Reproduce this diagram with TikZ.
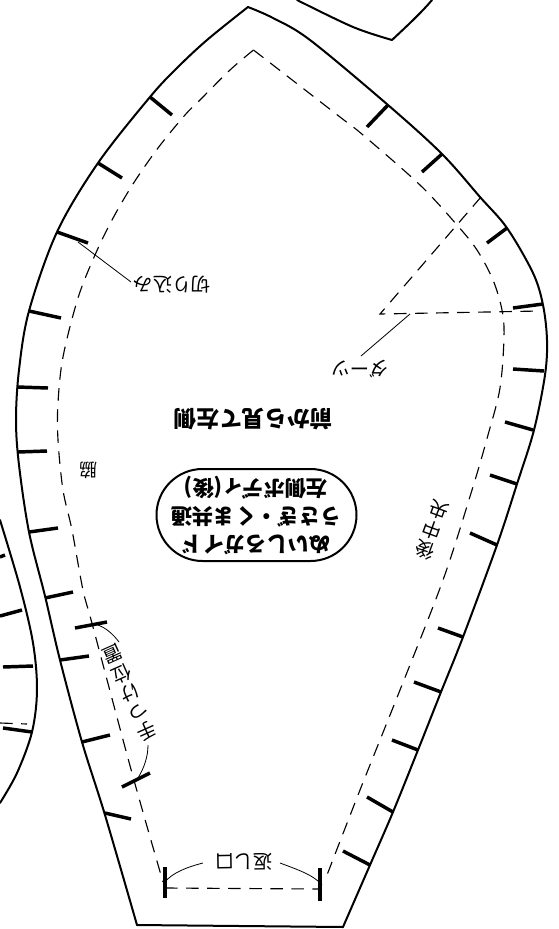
\documentclass[tikz,border=0pt]{standalone}
\usepackage{fontspec}
\setmainfont{Noto Sans CJK JP}
\tikzset{
  cutline/.style={line width=1.5pt,line join=round,line cap=round},
  notch/.style={line width=2.6pt},
  seam/.style={line width=0.85pt,dash pattern=on 9.4pt off 6.4pt},
  thinline/.style={line width=0.6pt},
  lab/.style={inner sep=0pt,align=center},
  smallt/.style={lab,font=\fontsize{14.5}{15.8}\selectfont},
  bigt/.style={lab,font=\fontsize{17}{21}\selectfont\bfseries},
  boxt/.style={lab,font=\fontsize{16}{21}\selectfont\bfseries},
}
\begin{document}
\begin{tikzpicture}[x=0.75pt,y=-0.75pt]
\useasboundingbox (0,0) rectangle (558,929);
\clip (0,0) rectangle (558,929);
% cutting outline
\draw[cutline,smooth,tension=0.55] plot coordinates {(248,7) (207,40) (177,68) (150,97) (98,163) (57,232) (29,311) (19,370) (16,420) (19,465) (29,532) (45,596) (60,660) (82,742) (105,815) (137,925)};
\draw[cutline,smooth,tension=0.55] plot coordinates {(248,7) (273,18) (310,40) (388,105) (442,154) (480,197) (507,228) (533,273) (543,305) (547,340) (545,375) (534,430) (517,484) (497,545) (463,637) (441,692) (418,750) (393,812) (370,865) (343,927)};
\draw[cutline] (137,925) -- (343,927);
% neighbouring pieces
\draw[cutline,smooth,tension=0.55] plot coordinates {(297,0) (353,27) (392,40)};
\draw[cutline] (392,40) .. controls (408,25) and (421,13) .. (432,0);
\draw[cutline,smooth,tension=0.55] plot coordinates {(0,520) (20,587) (33,643) (37,690) (32,732) (17,773) (0,803)};
% notches
\foreach \ax/\ay/\bx/\by in {150/97/172/115, 98/163/122/178, 57/232/88/243, 29/311/61/318, 17/387/48/388, 18/452/47/451, 29/532/58/528, 45/598/73/592, 75/628/107/622, 60/660/89/656, 82/742/110/735, 122/787/150/773, 105/813/131/819,
 388/105/367/127, 442/154/422/172, 507/228/487/243, 543/304/513/308, 544/371/513/369, 533/430/505/422, 517/484/490/475, 497/545/470/533, 463/637/438/628, 441/692/414/682, 418/750/392/740, 393/812/367/797, 370/865/343/851,
 0/557/5/555, 0/616/22/610, 3/667/33/666, 3/728/32/732}
  \draw[notch] (\ax,\ay) -- (\bx,\by);
\draw[notch] (165,867) -- (165,898);
\draw[notch] (320,868) -- (320,901);
% sewing line
\draw[seam,smooth,tension=0.55] plot coordinates {(253.5,50) (230,70) (200,100) (185,115) (158,148) (133,184) (112,220) (95,255) (78,298) (63,357) (58,403) (58,440) (63,490) (72,530) (83,590) (93,627) (132,773) (163,882)};
\draw[seam,smooth,tension=0.55] plot coordinates {(253.5,50) (340,117) (363,135) (420,185) (457,225) (477,250) (493,280) (502,310) (504,337) (500,388) (488,435) (472,490) (443,580) (400,690) (360,790) (327,875)};
\draw[seam] (165,888) -- (320,889);
\draw[seam] (0,723) -- (27,724);
% dart
\draw[seam] (481,197) -- (380,314) -- (540,311);
% labels
\node[smallt,rotate=180] (kiri) at (172,285) {切り込み};
\node[smallt,rotate=180] (dart) at (360,369) {ダーツ};
\node[bigt,rotate=180] (front) at (253.5,419) {前から見て左側};
\node[smallt,rotate=180,font=\fontsize{13.5}{14}\selectfont] (waki) at (88.5,470) {脇};
\node[draw,line width=1.5pt,rounded corners=34.5pt,minimum width=150pt,minimum height=69pt,inner sep=0pt,rotate=180] (guide) at (256.5,515) {};
\node[boxt,rotate=180] (guidetext) at (256,515) {ぬいしろガイド\\うさぎ・くま共通\\左側ボディ(後)};
\node[smallt,rotate=160] (back) at (432,530) {後\\中\\央};
\node[smallt,rotate=204] (hand) at (130,693) {手\\つ\\け\\位\\置};
\node[smallt,rotate=181] (ret) at (244,862) {返し口};
% leaders
\coordinate (k1) at (78,242);
\coordinate (k2) at (131,282);
\draw[thinline] (k1) -- (k2);
\coordinate (d1) at (410,314);
\coordinate (d2) at (361,356);
\draw[thinline] (d1) -- (d2);
\coordinate (r1) at (165,882);
\coordinate (r2) at (322,885);
\coordinate (r3) at (203,863);
\coordinate (r4) at (280,863);
\draw[thinline] (r1) .. controls (172,873) and (187,867) .. (r3);
\draw[thinline] (r2) .. controls (314,875) and (296,869) .. (r4);
\coordinate (h1) at (98,625);
\coordinate (h2) at (138,778);
\coordinate (h3) at (119,642);
\coordinate (h4) at (148,745);
\draw[thinline] (h1) .. controls (106,628) and (113,634) .. (h3);
\draw[thinline] (h4) .. controls (148,757) and (144,768) .. (h2);
\end{tikzpicture}
\end{document}
